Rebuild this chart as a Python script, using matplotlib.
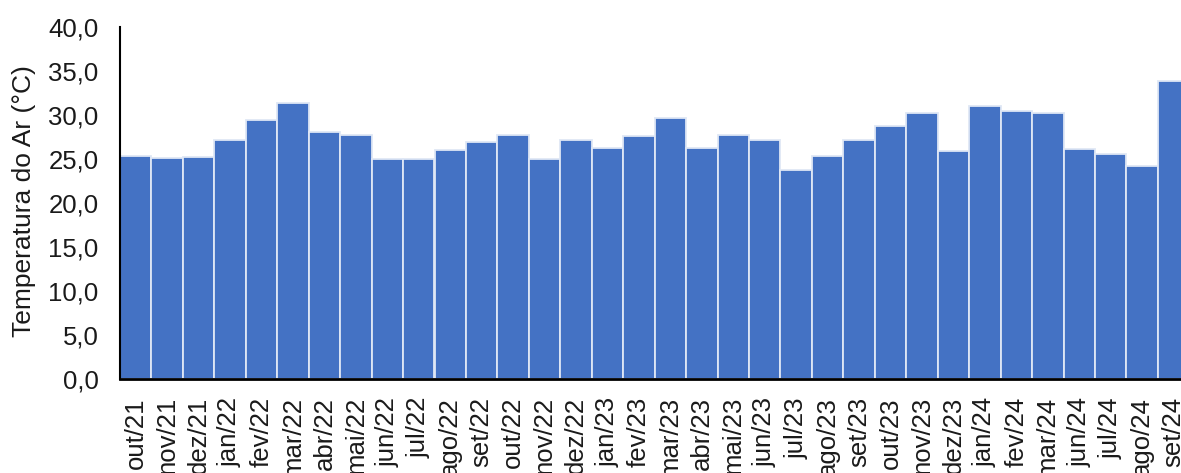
import matplotlib
matplotlib.use("Agg")
import matplotlib.pyplot as plt

# ---------- Data ----------
months = ["out/21", "nov/21", "dez/21", "jan/22", "fev/22", "mar/22", "abr/22",
          "mai/22", "jun/22", "jul/22", "ago/22", "set/22", "out/22", "nov/22",
          "dez/22", "jan/23", "fev/23", "mar/23", "abr/23", "mai/23", "jun/23",
          "jul/23", "ago/23", "set/23", "out/23", "nov/23", "dez/23", "jan/24",
          "fev/24", "mar/24", "jun/24", "jul/24", "ago/24", "set/24"]
temperature = [25.4, 25.1, 25.3, 27.2, 29.5, 31.4, 28.1,
               27.7, 25.0, 25.0, 26.1, 27.0, 27.8, 25.0,
               27.2, 26.3, 27.6, 29.7, 26.3, 27.8, 27.2,
               23.8, 25.4, 27.2, 28.8, 30.2, 25.9, 31.0,
               30.5, 30.2, 26.2, 25.6, 24.2, 33.9]
y_ticks = [0, 5, 10, 15, 20, 25, 30, 35, 40]

plt.rcParams['font.family'] = ['Liberation Sans', 'DejaVu Sans']

# ---------- Plot ----------
W, H = 1181, 473
fig = plt.figure(figsize=(W / 100, H / 100), dpi=100)
# axes extends a bit past the right edge, like the cropped original
ax = fig.add_axes([120 / W, 1 - 379 / H, 34 * 31.45 / W, (379 - 27.3) / H])

x = range(len(months))
ax.bar(x, temperature, width=1.0, color='#4472C4', edgecolor='#dfe7f5', linewidth=1.3)

ax.set_xlim(-0.5, len(months) - 0.5)
ax.set_ylim(0, 40)
ax.set_yticks(y_ticks)
ax.set_yticklabels([f"{v:.1f}".replace('.', ',') for v in y_ticks])
ax.set_xticks(list(x))
ax.set_xticklabels(months, rotation=90)

ax.tick_params(axis='y', length=0, pad=15.5, labelsize=18.5, labelcolor='#1a1a1a')
ax.tick_params(axis='x', length=0, pad=13, labelsize=18.5, labelcolor='#1a1a1a')

for side in ['top', 'right']:
    ax.spines[side].set_visible(False)
ax.spines['left'].set_linewidth(1.5)
ax.spines['bottom'].set_linewidth(2.0)
ax.spines['left'].set_color('black')
ax.spines['bottom'].set_color('black')

fig.text(24 / W, 1 - 201 / H, "Temperatura do Ar (°C)", rotation=90,
         ha='center', va='center', fontsize=19, color='#1a1a1a')

fig.savefig("out.png", dpi=100)
